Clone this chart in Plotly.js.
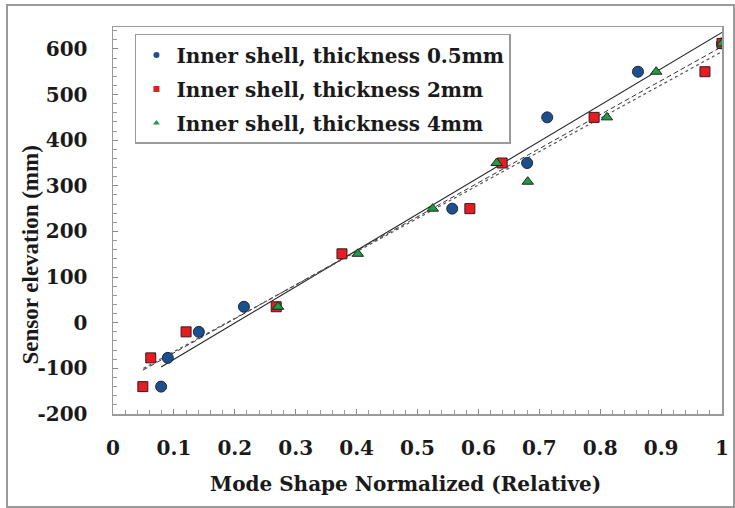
<!DOCTYPE html>
<html>
<head>
<meta charset="utf-8">
<script src="https://cdn.plot.ly/plotly-3.0.1.min.js"></script>
<style>
  html, body { margin: 0; padding: 0; background: #fff; }
  #wrap { position: relative; width: 735px; height: 508px; }
  #chart { width: 735px; height: 508px; }
  #frame { position: absolute; left: 6px; top: 4px; width: 725px; height: 500px;
           border: 2px solid #9a9a9a; pointer-events: none; }
</style>
</head>
<body>
<div id="wrap"><div id="chart"></div><div id="frame"></div></div>
<script>
// ---- data ----
var seriesNames = ["Inner shell, thickness 0.5mm", "Inner shell, thickness 2mm", "Inner shell, thickness 4mm"];
var xTitle = "Mode Shape Normalized (Relative)";
var yTitle = "Sensor elevation (mm)";

var x05 = [0.079, 0.090, 0.141, 0.215, 0.557, 0.680, 0.713, 0.862, 1.0];
var y05 = [-140, -77, -20, 35, 250, 350, 450, 550, 612];

var x2 = [0.049, 0.062, 0.120, 0.268, 0.376, 0.586, 0.639, 0.790, 0.972, 1.0];
var y2 = [-140, -77, -20, 35, 151, 250, 350, 450, 550, 612];

var x4 = [0.271, 0.402, 0.525, 0.630, 0.681, 0.811, 0.892, 1.0];
var y4 = [35, 151, 250, 350, 309, 450, 550, 612];

// trend line end points
var trend05X = [0.079, 1.0], trend05Y = [-97, 636];
var trend2X  = [0.049, 1.0], trend2Y  = [-104, 605];
var trend4X  = [0.050, 1.0], trend4Y  = [-100, 594];

var xTickVals = [0, 0.1, 0.2, 0.3, 0.4, 0.5, 0.6, 0.7, 0.8, 0.9, 1];
var xTickText = ["0", "0.1", "0.2", "0.3", "0.4", "0.5", "0.6", "0.7", "0.8", "0.9", "1"];
var yTickVals = [-200, -100, 0, 100, 200, 300, 400, 500, 600];
var yTickText = ["-200", "-100", "0", "100", "200", "300", "400", "500", "600"];

// ---- styles ----
var WIDE = "'DejaVu Serif', serif";
var NARROW = "'Liberation Serif', 'Times New Roman', serif";
var TXT = "#1a1a1a";
var colBlue = "#1d4f8f", colRed = "#e61c24", colGreen = "#1f9a45";

var traces = [
  {x: trend05X, y: trend05Y, mode: "lines", line: {color: "#222", width: 1.1}, showlegend: false, hoverinfo: "skip"},
  {x: trend2X, y: trend2Y, mode: "lines", line: {color: "#333", width: 1, dash: "5px,3px"}, showlegend: false, hoverinfo: "skip"},
  {x: trend4X, y: trend4Y, mode: "lines", line: {color: "#555", width: 1.2, dash: "dot"}, showlegend: false, hoverinfo: "skip"},
  {x: x05, y: y05, mode: "markers", name: seriesNames[0], showlegend: false,
   marker: {symbol: "circle", size: 11, color: colBlue, line: {color: "#1a2a3a", width: 1}}},
  {x: x2, y: y2, mode: "markers", name: seriesNames[1], showlegend: false,
   marker: {symbol: "square", size: 10, color: colRed, line: {color: "#3a1a1a", width: 1}}},
  {x: x4, y: y4, mode: "markers", name: seriesNames[2], showlegend: false,
   marker: {symbol: "triangle-up", size: 10, color: colGreen, line: {color: "#1a2a1a", width: 1}}},
  // legend entries (small markers as in the reference)
  {x: [null], y: [null], mode: "markers", name: seriesNames[0], legendgroup: "a",
   marker: {symbol: "circle", size: 6, color: colBlue}},
  {x: [null], y: [null], mode: "markers", name: seriesNames[1], legendgroup: "b",
   marker: {symbol: "square", size: 6, color: colRed}},
  {x: [null], y: [null], mode: "markers", name: seriesNames[2], legendgroup: "c",
   marker: {symbol: "triangle-up", size: 6, color: colGreen}}
];

var layout = {
  width: 735, height: 508,
  margin: {l: 113, r: 13, t: 27, b: 94},
  paper_bgcolor: "#fff", plot_bgcolor: "#fff",
  font: {family: WIDE, color: TXT},
  showlegend: true,
  legend: {
    x: 0.036, y: 0.982, xanchor: "left", yanchor: "top",
    bordercolor: "#9a9a9a", borderwidth: 1.5, bgcolor: "#fff",
    font: {family: WIDE, size: 20, color: TXT, weight: "bold"},
    traceorder: "grouped", tracegroupgap: 5, itemwidth: 30
  },
  xaxis: {
    range: [0, 1], tickvals: xTickVals, ticktext: xTickText,
    showgrid: false, zeroline: false,
    showline: true, linecolor: "#9a9a9a", linewidth: 1.5, mirror: true,
    ticks: "inside", ticklen: 5, tickcolor: "#888", tickwidth: 1,
    minor: {dtick: 0.02, ticks: "inside", ticklen: 4, tickcolor: "#999"},
    tickfont: {family: WIDE, size: 20, color: TXT, weight: "bold"},
    ticklabelstandoff: 15
  },
  yaxis: {
    range: [-200, 648], tickvals: yTickVals, ticktext: yTickText,
    showgrid: false, zeroline: false,
    showline: true, linecolor: "#9a9a9a", linewidth: 1.5, mirror: true,
    ticks: "inside", ticklen: 5, tickcolor: "#888", tickwidth: 1,
    minor: {dtick: 20, ticks: "inside", ticklen: 4, tickcolor: "#999"},
    tickfont: {family: WIDE, size: 20, color: TXT, weight: "bold"},
    ticklabelstandoff: 20
  },
  annotations: [
    {text: xTitle, xref: "paper", yref: "paper", x: 0.48, y: -0.18, xanchor: "center", yanchor: "middle",
     showarrow: false, font: {family: WIDE, size: 20, color: TXT, weight: "bold"}},
    {text: yTitle, xref: "paper", yref: "paper", x: -0.136, y: 0.41, xanchor: "center", yanchor: "middle",
     textangle: -90, showarrow: false, font: {family: NARROW, size: 23, color: TXT, weight: "bold"}}
  ]
};

Plotly.newPlot("chart", traces, layout, {displayModeBar: false, staticPlot: true});
</script>
</body>
</html>
